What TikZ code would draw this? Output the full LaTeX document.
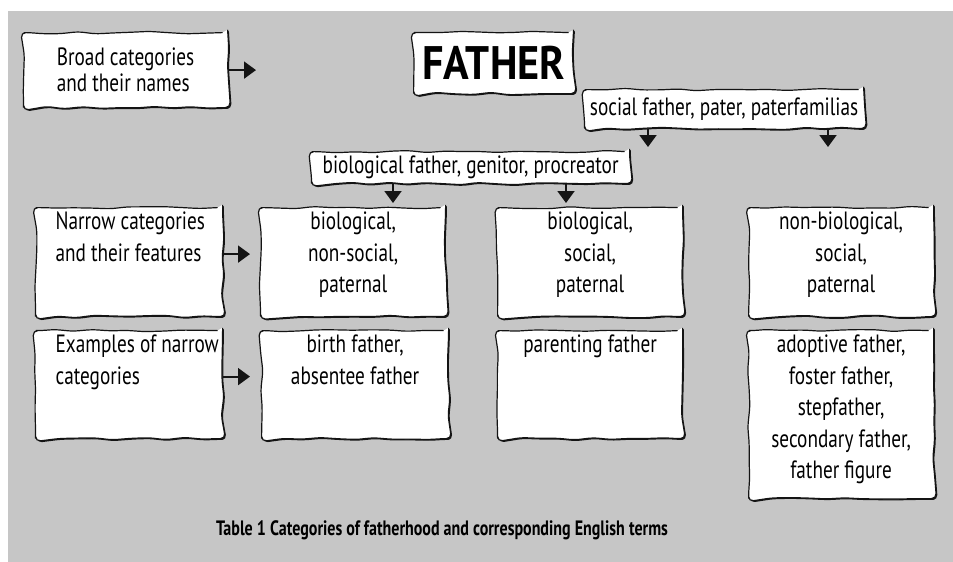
\documentclass[tikz,border=0pt]{standalone}
\usepackage{fontspec}
\setmainfont{PT Sans}[FakeStretch=0.77]
\newfontfamily\headfont{PT Sans}[FakeStretch=0.9]
\usetikzlibrary{arrows.meta,positioning,shadows,decorations.pathmorphing}
\definecolor{panel}{RGB}{198,198,198}
\definecolor{ink}{RGB}{20,20,20}
\newcommand\toptext[4]{\parbox[t][#2][t]{#1}{#3\strut#4}}
\tikzset{
  >={Triangle[length=12pt,width=17pt]},
  sketch/.style={draw=ink,fill=white,line width=1.2pt,inner sep=0pt,
    decorate,decoration={random steps,segment length=18pt,amplitude=1.3pt},
    rounded corners=5pt,
    drop shadow={shadow xshift=1.3pt,shadow yshift=-1.3pt,opacity=1,fill=ink}},
  tag/.style={sketch,anchor=north west,minimum height=#1,font=\fontsize{25}{26}\selectfont},
  cat/.style={sketch,anchor=north west,font=\fontsize{25}{31.5}\selectfont},
  flow/.style={->,line width=2pt,draw=ink},
}

\begin{document}
\begin{tikzpicture}[x=1pt,y=-1pt]
  \useasboundingbox (0,0) rectangle (953,562);
  \fill[panel] (8,11) rectangle (953,562);
  \pgfmathsetseed{12}
  % broad categories
  \node[tag=75pt,minimum width=204pt,align=left] (broad) at (23,32) {Broad categories\\and their names};
  \node[sketch,anchor=north west,minimum width=160pt,minimum height=61pt,
    font=\headfont\bfseries\fontsize{47}{50}\selectfont] (father) at (413,32) {FATHER};
  \node[tag=39pt,minimum width=279pt] (social) at (584,89) {social father, pater, paterfamilias};
  \node[tag=32pt,minimum width=318pt] (biolabel) at (311,151) {biological father, genitor, procreator};
  % narrow categories
  \node[cat] (narrow) at (35,207) {\toptext{187pt}{109pt}{\raggedright\leftskip=20pt}{Narrow categories\\and their features}};
  \node[cat] (bionon) at (260,207) {\toptext{185pt}{109pt}{\centering}{biological,\\non-social,\\paternal}};
  \node[cat] (biosoc) at (497,207) {\toptext{185pt}{109pt}{\centering}{biological,\\social,\\paternal}};
  \node[cat] (nonbio) at (748,207) {\toptext{185pt}{109pt}{\centering}{non-biological,\\social,\\paternal}};
  % examples
  \node[cat] (examples) at (35,330) {\toptext{187pt}{108pt}{\raggedright\leftskip=20pt}{Examples of narrow\\categories}};
  \node[cat] (birth) at (261,330) {\toptext{187pt}{108pt}{\centering}{birth father,\\absentee father}};
  \node[cat] (parenting) at (497,330) {\toptext{185pt}{108pt}{\centering}{parenting father}};
  \node[cat] (adoptive) at (748,330) {\toptext{185pt}{168pt}{\centering}{adoptive father,\\foster father,\\stepfather,\\secondary father,\\father figure}};
  % arrows
  \coordinate (bp) at (256,0);
  \draw[flow] (broad.east) -- (broad.east -| bp);
  \coordinate (sa) at (648,147);
  \coordinate (sb) at (828,147);
  \draw[flow] (social.south -| sa) -- (sa);
  \draw[flow] (social.south -| sb) -- (sb);
  \coordinate (ca) at (393,0);
  \coordinate (cb) at (566,0);
  \draw[flow,shorten >=4pt] (biolabel.south -| ca) -- (bionon.north -| ca);
  \draw[flow,shorten >=4pt] (biolabel.south -| cb) -- (biosoc.north -| cb);
  \coordinate (na) at ([yshift=8pt]narrow.east);
  \draw[flow,shorten >=10pt] (na) -- (na -| bionon.west);
  \coordinate (ea) at ([yshift=8pt]examples.east);
  \draw[flow,shorten >=11pt] (ea) -- (ea -| birth.west);
  \node[font=\bfseries\fontsize{20.8}{24}\selectfont] (caption) at (442,530) {Table 1 Categories of fatherhood and corresponding English terms};
\end{tikzpicture}
\end{document}
